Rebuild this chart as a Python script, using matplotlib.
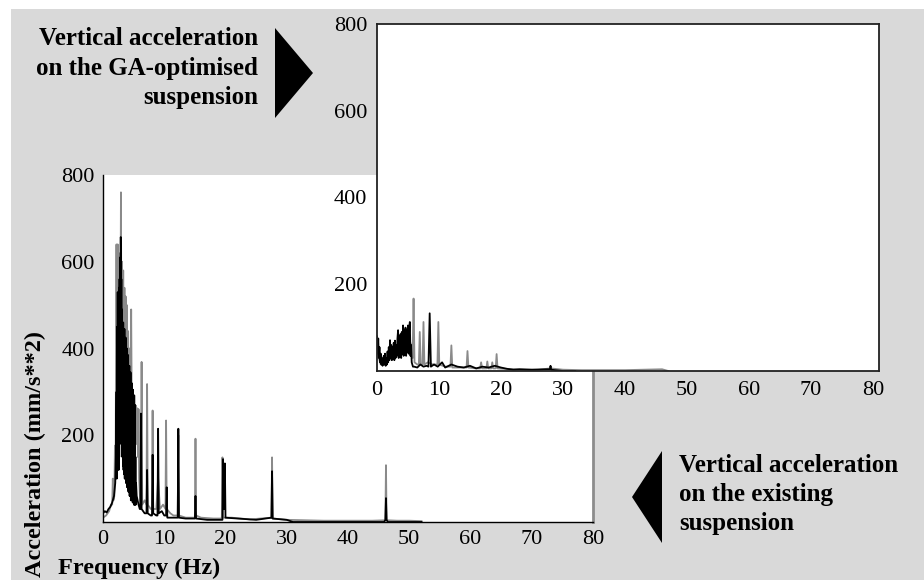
import matplotlib
matplotlib.use("Agg")
import matplotlib.pyplot as plt
from matplotlib.patches import Rectangle, Polygon

plt.rcParams['font.family'] = ['Liberation Serif', 'DejaVu Serif']

# ---------------- data ----------------
# Existing suspension (large chart) - black trace
ex_black_f = [0.0, 0.3, 0.6, 0.9, 1.2, 1.5, 1.8, 2.0, 2.1,
              2.2, 2.25, 2.3, 2.35, 2.4, 2.45, 2.5, 2.55, 2.6, 2.65, 2.7, 2.75, 2.8, 2.85,
              2.9, 2.95, 3.0, 3.05, 3.1, 3.15, 3.2, 3.25, 3.3, 3.35, 3.4, 3.45, 3.5, 3.55,
              3.6, 3.65, 3.7, 3.75, 3.8, 3.85, 3.9, 3.95, 4.0, 4.05, 4.1, 4.15, 4.2, 4.25,
              4.3, 4.35, 4.4, 4.45, 4.5, 4.55, 4.6, 4.65, 4.7, 4.75, 4.8, 4.85, 4.9, 4.95,
              5.0, 5.05, 5.1, 5.15, 5.2, 5.25, 5.3, 5.35, 5.4,
              5.5, 5.8, 6.0, 6.1, 6.2, 6.3, 6.8, 7.1, 7.2, 7.3, 7.8, 8.0, 8.1, 8.2, 8.7,
              8.9, 9.0, 9.1, 9.6, 10.0, 10.3, 10.4, 10.5, 11.5, 12.2, 12.3, 12.4, 13.5,
              15.0, 15.1, 15.2, 17.0, 19.5, 19.6, 19.75, 19.9, 20.0, 22.0, 25.0, 27.5,
              27.6, 27.7, 30.0, 31.0, 45.9, 46.1, 46.2, 46.3, 46.5, 52.0]
ex_black_a = [20, 25, 22, 30, 35, 45, 60, 90, 150,
              300, 100, 450, 120, 530, 150, 510, 120, 540, 150, 560, 180, 610, 200,
              657, 250, 560, 200, 490, 150, 450, 130, 460, 120, 430, 110, 445, 100,
              410, 100, 425, 90, 390, 90, 400, 80, 370, 80, 385, 70, 350, 70,
              360, 60, 330, 60, 345, 50, 310, 50, 320, 50, 295, 45, 305, 45,
              280, 40, 292, 40, 270, 40, 150, 40, 90,
              60, 40, 30, 30, 250, 30, 20, 20, 120, 20, 15, 15, 155, 20, 15,
              15, 215, 20, 25, 15, 15, 80, 10, 10, 10, 215, 10, 8,
              8, 60, 8, 5, 5, 145, 30, 135, 10, 8, 5, 10,
              117, 8, 5, 0, 0, 5, 55, 5, 0, 0]

# Existing suspension (large chart) - grey trace
ex_gray_f = [0.0, 0.5, 1.0, 1.3, 1.5, 1.6, 1.7, 1.85, 1.95, 2.05, 2.1,
             2.2, 2.3, 2.4, 2.5, 2.6, 2.7, 2.8, 2.85, 2.93, 3.0, 3.1, 3.2, 3.3, 3.4, 3.5,
             3.6, 3.7, 3.8, 3.9, 4.0, 4.1, 4.2, 4.3, 4.4, 4.5, 4.6, 4.7, 4.8, 4.9, 5.0,
             5.1, 5.2, 5.3, 5.4, 5.5, 5.6, 5.7, 5.8,
             5.9, 6.1, 6.2, 6.3, 6.4, 6.8, 7.1, 7.2, 7.3, 7.8, 8.0, 8.1, 8.2, 8.7, 9.0,
             9.3, 9.8, 10.2, 10.3, 10.4, 11.0, 11.5, 12.2, 12.3, 12.4, 13.5, 15.0, 15.1,
             15.2, 16.0, 18.0, 19.4, 19.5, 19.6, 21.0, 24.0, 27.5, 27.6, 27.7, 30.0,
             33.0, 36.0, 40.0, 44.0, 46.1, 46.2, 46.3, 48.0, 50.0, 52.0]
ex_gray_a = [10, 15, 25, 40, 40, 100, 50, 60, 176, 120, 300,
             640, 300, 640, 350, 620, 400, 600, 450, 760, 450, 600, 400, 580, 380, 540,
             350, 520, 330, 500, 300, 440, 280, 400, 260, 300, 490, 250, 300, 230, 270,
             220, 265, 200, 268, 180, 262, 150, 260,
             100, 40, 40, 369, 40, 50, 40, 318, 40, 30, 30, 257, 30, 30, 100,
             30, 40, 30, 234, 30, 20, 15, 15, 200, 15, 10, 10, 192,
             15, 10, 8, 8, 149, 10, 10, 6, 10, 149, 8, 5,
             4, 3, 3, 3, 4, 131, 4, 3, 3, 2]

# GA-optimised suspension (inset chart) - black trace
ga_black_f = [0.0, 0.1, 0.2, 0.3, 0.4, 0.5, 0.6, 0.7, 0.8, 0.9, 1.0, 1.1, 1.2, 1.3, 1.4,
              1.5, 1.6, 1.7, 1.8, 1.9, 2.0, 2.1, 2.2, 2.3, 2.4, 2.5, 2.6, 2.7, 2.8, 2.9,
              3.0, 3.1, 3.2, 3.3, 3.4, 3.5, 3.6, 3.7, 3.8, 3.9, 4.0, 4.1, 4.2, 4.3, 4.4,
              4.5, 4.6, 4.7, 4.8, 4.9, 5.0, 5.1, 5.2, 5.3, 5.4, 5.5, 5.6, 5.8, 6.0,
              6.5, 7.0, 7.5, 8.0, 8.3, 8.5, 8.7, 9.2, 9.8, 10.5, 11.0, 12.0, 13.0, 14.0,
              15.0, 16.0, 17.0, 18.0, 19.0, 20.0, 21.0, 22.0, 23.0, 25.0, 27.5, 27.9,
              28.0, 28.1, 30.0, 32.0]
ga_black_a = [80, 40, 75, 30, 55, 20, 40, 15, 30, 12, 25, 35, 15, 40, 12,
              30, 15, 45, 20, 55, 25, 71, 30, 60, 25, 55, 30, 65, 25, 70,
              30, 60, 35, 75, 94, 30, 80, 35, 85, 30, 90, 40, 105, 35, 95,
              40, 100, 35, 95, 45, 105, 40, 100, 113, 35, 60, 20, 10, 10,
              8, 15, 10, 12, 10, 133, 10, 15, 10, 20, 8, 15, 10, 8,
              12, 6, 10, 8, 12, 8, 5, 3, 4, 3, 4, 4,
              12, 3, 0, 0]

# GA-optimised suspension (inset chart) - grey trace
ga_gray_f = [0.0, 0.3, 0.6, 1.0, 1.5, 2.0, 2.5, 3.0, 3.5, 4.0, 4.5, 5.0, 5.5, 5.75, 5.9,
             6.05, 6.5, 6.75, 6.9, 7.05, 7.35, 7.5, 7.65, 8.2, 9.0, 9.75, 9.9, 10.05,
             11.0, 11.85, 12.0, 12.15, 13.5, 14.45, 14.6, 14.75, 16.0, 16.65, 16.8,
             16.95, 17.65, 17.8, 17.95, 18.45, 18.6, 18.75, 19.15, 19.3, 19.45, 20.5,
             22.0, 24.0, 26.0, 28.0, 30.0, 33.0, 36.0, 40.0, 46.0, 47.0]
ga_gray_a = [40, 30, 15, 25, 20, 40, 35, 50, 60, 70, 60, 80, 60, 30, 167,
             20, 15, 15, 90, 15, 15, 113, 15, 20, 15, 15, 113, 15,
             10, 10, 59, 8, 8, 8, 46, 8, 6, 6, 20,
             6, 6, 22, 6, 6, 20, 6, 6, 39, 6, 5,
             4, 3, 3, 6, 3, 2, 2, 2, 4, 0]

x_ticks = [0, 10, 20, 30, 40, 50, 60, 70, 80]
y_ticks = [200, 400, 600, 800]

txt_ga = ["Vertical acceleration", "on the GA-optimised", "suspension"]
txt_ex = ["Vertical acceleration", "on the existing", "suspension"]
ylabel = "Acceleration (mm/s**2)"
xlabel = "Frequency (Hz)"

# ---------------- figure ----------------
W, H = 924, 580
BG = "#d9d9d9"
GRAY = "#8a8a8a"

fig = plt.figure(figsize=(W / 100, H / 100), dpi=100)
fig.patch.set_facecolor("white")
fig.add_artist(Rectangle((11 / W, 0), 1 - 11 / W, 1 - 9 / H, transform=fig.transFigure,
                         facecolor=BG, edgecolor="none", zorder=-10))


def fx(px):
    return px / W


def fy(py):
    return 1 - py / H


# Large chart: existing suspension
ax = fig.add_axes([fx(103), 58 / H, 490 / W, 347 / H])
ax.plot(ex_gray_f, ex_gray_a, color=GRAY, lw=1.3)
ax.plot(ex_black_f, ex_black_a, color="black", lw=1.3)
ax.set_xlim(0, 80)
ax.set_ylim(0, 800)
ax.set_xticks(x_ticks)
ax.set_yticks(y_ticks)
ax.spines['top'].set_visible(False)
ax.spines['right'].set_color("#8c8c8c")
ax.spines['right'].set_linewidth(2)
ax.spines['left'].set_linewidth(1)
ax.spines['bottom'].set_linewidth(1)
ax.tick_params(length=0, labelsize=16, pad=6)

# Inset chart: GA-optimised suspension
ax2 = fig.add_axes([fx(377), 209 / H, 502 / W, 347 / H])
ax2.plot(ga_gray_f, ga_gray_a, color=GRAY, lw=1.3)
ax2.plot(ga_black_f, ga_black_a, color="black", lw=1.3)
ax2.set_xlim(0, 81)
ax2.set_ylim(0, 800)
ax2.set_xticks(x_ticks)
ax2.set_yticks(y_ticks)
for s in ax2.spines.values():
    s.set_linewidth(1.3)
    s.set_color("#222222")
ax2.tick_params(length=0, labelsize=16, pad=7)

# Annotations
for i, line in enumerate(txt_ga):
    fig.text(fx(258), fy(45 + 29.5 * i), line, ha='right', va='baseline',
             fontsize=18, fontweight='bold')
for i, line in enumerate(txt_ex):
    fig.text(fx(679), fy(472 + 29 * i), line, ha='left', va='baseline',
             fontsize=18, fontweight='bold')

fig.add_artist(Polygon([(fx(275), fy(28)), (fx(275), fy(118)), (fx(313), fy(73))],
                       closed=True, transform=fig.transFigure, facecolor="black",
                       edgecolor="none"))
fig.add_artist(Polygon([(fx(632), fy(497)), (fx(662), fy(451)), (fx(662), fy(543))],
                       closed=True, transform=fig.transFigure, facecolor="black",
                       edgecolor="none"))

fig.text(fx(35), fy(454), ylabel, rotation=90, ha='center', va='center',
         fontsize=17.5, fontweight='bold')
fig.text(fx(58), fy(574), xlabel, ha='left', va='baseline',
         fontsize=17.5, fontweight='bold')

fig.savefig("out.png", dpi=100)
